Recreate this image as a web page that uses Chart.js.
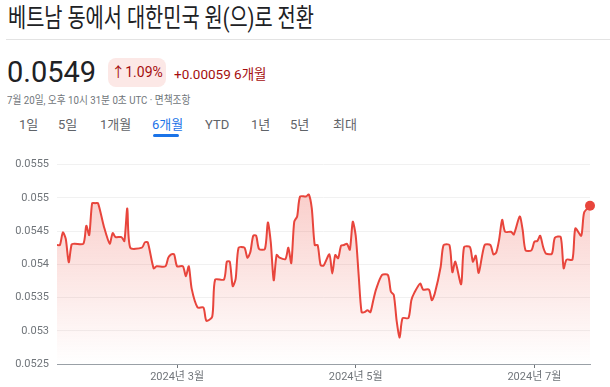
<!DOCTYPE html>
<html>
<head>
<meta charset="utf-8">
<script src="https://cdn.jsdelivr.net/npm/chart.js@4"></script>
<style>
  body { margin: 0; background: #fff; font-family: Roboto, "Noto Sans CJK KR", sans-serif; width: 610px; height: 387px; overflow: hidden; position: relative; }
  .abs { position: absolute; white-space: nowrap; }
  #title { left: 8px; top: -3px; font-size: 26px; color: #202124; transform: scaleX(0.76); transform-origin: left; }
  #rule { left: 6px; right: 0; top: 39px; height: 1px; background: #e3e3e3; }
  #price { left: 7px; top: 55px; font-size: 29px; color: #202124; }
  #badge { left: 108px; top: 58px; width: 58px; height: 29px; border-radius: 8px; background: #fce8e6; color: #a50e0e; font-size: 14px; line-height: 29px; text-align: center; }
  #delta { left: 174px; top: 63px; font-size: 13.5px; color: #a50e0e; }
  #stamp { left: 7px; top: 91px; font-size: 11px; color: #70757a; transform: scaleX(0.88); transform-origin: left; }
  .tab { top: 117px; font-size: 13px; line-height: 16px; color: #5f6368; }
  .tab.on { color: #1a73e8; }
  #bar { left: 153px; top: 134px; width: 26px; height: 3px; background: #1a73e8; border-radius: 2px; }
  #wrap { position: absolute; left: 0; top: 150px; width: 600px; height: 237px; }
</style>
</head>
<body>
<div class="abs" id="title">베트남 동에서 대한민국 원(으)로 전환</div>
<div class="abs" id="rule"></div>
<div class="abs" id="price">0.0549</div>
<div class="abs" id="badge">↑1.09%</div>
<div class="abs" id="delta">+0.00059 6개월</div>
<div class="abs" id="stamp">7월 20일, 오후 10시 31분 0초 UTC · 면책조항</div>
<div class="abs tab" style="left:19px">1일</div>
<div class="abs tab" style="left:58px">5일</div>
<div class="abs tab" style="left:100px">1개월</div>
<div class="abs tab on" style="left:152px">6개월</div>
<div class="abs tab" style="left:205px">YTD</div>
<div class="abs tab" style="left:251px">1년</div>
<div class="abs tab" style="left:290px">5년</div>
<div class="abs tab" style="left:333px">최대</div>
<div class="abs" id="bar"></div>
<div id="wrap"><canvas id="grafico"></canvas></div>
<script>
// dias desde el 20 de enero de 2024
const dias = [0, 1, 2, 3, 4, 5, 6, 9, 10, 11, 12, 13, 14, 16, 18, 19, 20, 22, 23, 24, 25, 29, 30, 31, 33, 34, 37, 38, 39, 40, 41, 43, 44, 45, 46, 48, 50, 51, 53, 54, 57, 58, 59, 60, 61, 62, 64, 65, 66, 67, 68, 69, 71, 72, 73, 74, 75, 76, 78, 79, 80, 81, 82, 83, 85, 86, 87, 88, 89, 90, 91, 93, 94, 95, 96, 97, 98, 99, 100, 101, 102, 103, 104, 105, 106, 107, 108, 109, 111, 113, 114, 115, 116, 117, 118, 120, 121, 122, 124, 125, 127, 128, 129, 131, 132, 134, 135, 136, 138, 139, 141, 142, 143, 144, 146, 148, 149, 150, 151, 152, 153, 155, 156, 158, 159, 160, 162, 163, 164, 165, 166, 167, 169, 170, 172, 173, 174, 176, 177, 179, 180, 182];
const tasas = [0.05429, 0.05429, 0.05448, 0.05438, 0.05403, 0.0543, 0.05431, 0.05431, 0.05458, 0.05444, 0.05492, 0.05492, 0.05492, 0.05457, 0.05431, 0.05447, 0.05441, 0.05441, 0.05435, 0.05484, 0.05425, 0.05425, 0.05433, 0.05433, 0.05394, 0.05397, 0.05397, 0.0541, 0.05415, 0.05415, 0.05397, 0.05397, 0.05382, 0.05397, 0.05363, 0.05335, 0.05335, 0.05315, 0.05321, 0.05377, 0.05377, 0.05404, 0.05404, 0.05367, 0.05378, 0.05425, 0.05425, 0.0541, 0.05418, 0.05443, 0.05443, 0.05423, 0.05423, 0.05463, 0.05433, 0.05376, 0.05414, 0.0541, 0.05408, 0.05425, 0.05402, 0.05464, 0.05472, 0.05502, 0.05502, 0.05505, 0.05484, 0.05429, 0.05429, 0.05399, 0.05398, 0.05415, 0.05386, 0.05414, 0.05409, 0.05428, 0.05429, 0.05431, 0.05422, 0.05464, 0.05443, 0.05384, 0.05328, 0.05328, 0.05331, 0.05328, 0.05346, 0.05363, 0.05384, 0.05384, 0.05359, 0.05354, 0.05314, 0.0529, 0.05319, 0.05319, 0.05346, 0.05357, 0.05371, 0.05362, 0.05362, 0.05346, 0.05356, 0.05396, 0.05429, 0.05429, 0.05388, 0.05404, 0.0537, 0.05426, 0.05426, 0.05404, 0.05413, 0.05387, 0.05429, 0.05429, 0.05415, 0.05418, 0.05438, 0.05467, 0.05449, 0.05449, 0.05445, 0.05472, 0.05452, 0.05421, 0.05421, 0.05434, 0.05435, 0.05443, 0.05426, 0.05416, 0.05416, 0.0544, 0.05441, 0.05394, 0.05407, 0.05407, 0.05454, 0.05443, 0.05478, 0.05488];

// marcas del eje x (1 de marzo, 1 de mayo, 1 de julio)
const diasMarca = [41, 102, 163];
const etiquetasMarca = ["2024년 3월", "2024년 5월", "2024년 7월"];
const valoresY = [0.0525, 0.053, 0.0535, 0.054, 0.0545, 0.055, 0.0555];

const puntos = dias.map((d, i) => ({ x: d, y: tasas[i] }));
const ultimo = puntos.length - 1;

const ctx = document.getElementById("grafico").getContext("2d");
const grafico = new Chart(ctx, {
  type: "line",
  data: {
    datasets: [
      {
        data: puntos,
        borderColor: "#e8453c",
        borderWidth: 2,
        tension: 0.25,
        clip: false,
        fill: "start",
        backgroundColor: (c) => {
          const area = c.chart.chartArea;
          if (!area) return "rgba(234,67,53,0.2)";
          const g = c.chart.ctx.createLinearGradient(0, area.top, 0, area.bottom);
          g.addColorStop(0, "rgba(234,67,53,0.30)");
          g.addColorStop(1, "rgba(234,67,53,0)");
          return g;
        },
        pointRadius: (c) => (c.dataIndex === ultimo ? 5 : 0),
        pointBackgroundColor: "#e8453c",
        pointBorderWidth: 0,
      },
    ],
  },
  options: {
    responsive: true,
    maintainAspectRatio: false,
    animation: false,
    layout: { padding: { top: 12, right: 10 } },
    plugins: { legend: { display: false }, tooltip: { enabled: false } },
    scales: {
      x: {
        type: "linear",
        min: 0,
        max: 182,
        afterBuildTicks: (s) => { s.ticks = diasMarca.map((v) => ({ value: v })); },
        afterFit: (s) => { s.height = 23; },
        ticks: {
          callback: (v) => etiquetasMarca[diasMarca.indexOf(v)],
          color: "#70757a",
          font: { family: "Roboto, 'Noto Sans CJK KR'", size: 11 },
          padding: 3,
          maxRotation: 0,
          autoSkip: false,
        },
        grid: { drawOnChartArea: false, drawTicks: true, tickLength: 4, color: "#70757a" },
        border: { display: true, color: "#9aa0a6", width: 1 },
      },
      y: {
        min: 0.0525,
        max: 0.0555,
        afterBuildTicks: (s) => { s.ticks = valoresY.map((v) => ({ value: v })); },
        afterFit: (s) => { s.width = 57; },
        ticks: {
          callback: (v) => String(v),
          color: "#70757a",
          font: { family: "Roboto", size: 11 },
          padding: 8,
        },
        grid: { color: "#f1f1f1", drawTicks: false },
        border: { display: false },
      },
    },
  },
});
</script>
</body>
</html>
